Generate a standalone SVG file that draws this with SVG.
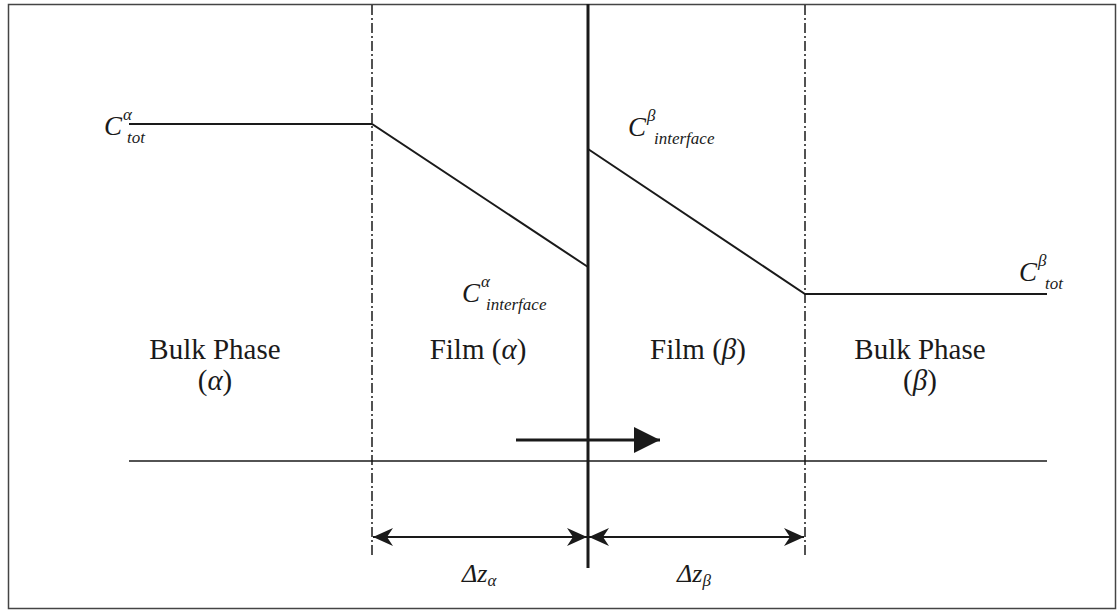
<svg xmlns="http://www.w3.org/2000/svg" width="1118" height="611" viewBox="0 0 1118 611">
<defs>
<style>
.t{font-family:"Liberation Serif","Times New Roman",serif;font-size:29px;fill:#1a1a1a}
.i{font-style:italic}
.c{font-size:27px}
.s{font-size:17px}
.d{font-size:26px}
.ln{stroke:#1a1a1a;stroke-width:2;fill:none}
.dash{stroke:#1a1a1a;stroke-width:1.5;stroke-dasharray:10,3,2,3;fill:none}
</style>
<marker id="ah" viewBox="0 0 20 18" refX="20" refY="9" markerWidth="20" markerHeight="18" markerUnits="userSpaceOnUse" orient="auto-start-reverse">
<path d="M0,0 L20,9 L0,18 L6,9 Z" fill="#1a1a1a"/>
</marker>
<marker id="bh" viewBox="0 0 26 26" refX="26" refY="13" markerWidth="26" markerHeight="26" markerUnits="userSpaceOnUse" orient="auto">
<path d="M0,0 L26,13 L0,26 Z" fill="#1a1a1a"/>
</marker>
</defs>
<rect x="8.5" y="4.5" width="1107" height="604" fill="#fff" stroke="#444" stroke-width="1.5"/>
<g id="connectors">
<line class="dash" x1="372" y1="5" x2="372" y2="558"/>
<line class="dash" x1="805" y1="5" x2="805" y2="558"/>
<line class="ln" x1="588" y1="4" x2="588" y2="568" style="stroke-width:3"/>
<polyline class="ln" points="129,124 372,124 588,267"/>
<polyline class="ln" points="588,149 805,294 1047,294"/>
<line class="ln" x1="129" y1="461" x2="1047" y2="461" style="stroke-width:1.5"/>
<line class="ln" x1="516" y1="440" x2="660" y2="440" style="stroke-width:3" marker-end="url(#bh)"/>
<line class="ln" x1="373" y1="537" x2="587" y2="537" marker-start="url(#ah)" marker-end="url(#ah)"/>
<line class="ln" x1="589" y1="537" x2="804" y2="537" marker-start="url(#ah)" marker-end="url(#ah)"/>
</g>
<g id="c-alpha-tot">
<text class="t i c" x="104" y="135">C</text>
<text class="t i s" x="123" y="120">α</text>
<text class="t i s" x="127" y="143">tot</text>
</g>
<g id="c-alpha-interface">
<text class="t i c" x="462" y="302">C</text>
<text class="t i s" x="481" y="287">α</text>
<text class="t i s" x="486" y="310">interface</text>
</g>
<g id="c-beta-interface">
<text class="t i c" x="628" y="136">C</text>
<text class="t i s" x="647" y="121">β</text>
<text class="t i s" x="654" y="144">interface</text>
</g>
<g id="c-beta-tot">
<text class="t i c" x="1019" y="281">C</text>
<text class="t i s" x="1038" y="266">β</text>
<text class="t i s" x="1045" y="289">tot</text>
</g>
<g id="bulk-alpha">
<text class="t" x="215" y="359" text-anchor="middle">Bulk Phase</text>
<text class="t" x="215" y="390" text-anchor="middle">(<tspan class="i">α</tspan>)</text>
</g>
<g id="film-alpha">
<text class="t" x="478" y="359" text-anchor="middle">Film (<tspan class="i">α</tspan>)</text>
</g>
<g id="film-beta">
<text class="t" x="698" y="359" text-anchor="middle">Film (<tspan class="i">β</tspan>)</text>
</g>
<g id="bulk-beta">
<text class="t" x="920" y="359" text-anchor="middle">Bulk Phase</text>
<text class="t" x="920" y="390" text-anchor="middle">(<tspan class="i">β</tspan>)</text>
</g>
<g id="dz-alpha">
<text class="t i d" x="462" y="582">Δz<tspan class="s" dy="4">α</tspan></text>
</g>
<g id="dz-beta">
<text class="t i d" x="677" y="582">Δz<tspan class="s" dy="4">β</tspan></text>
</g>
</svg>
